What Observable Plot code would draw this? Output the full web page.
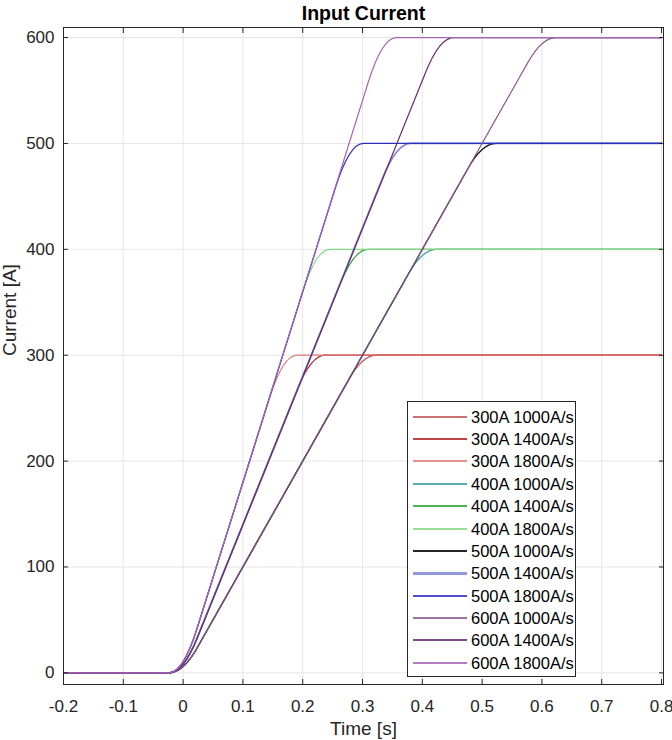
<!DOCTYPE html>
<html>
<head>
<meta charset="utf-8">
<script src="https://cdn.jsdelivr.net/npm/d3@7"></script>
<script src="https://cdn.jsdelivr.net/npm/@observablehq/plot@0.6"></script>
<style>
  html, body { margin: 0; padding: 0; background: #fff; }
  #chart { position: relative; width: 672px; height: 740px; font-family: "Liberation Sans", Arial, Helvetica, sans-serif; }
  #legend { position: absolute; box-sizing: border-box; left: 407px; top: 401px; width: 169px; height: 276px;
            border: 1px solid #262626; background: #fff; }
  .row { position: absolute; left: 0; width: 100%; height: 20px; }
  .swatch { position: absolute; left: 5px; width: 54px; opacity: 0.85; }
  .lab { position: absolute; left: 63px; top: 0; line-height: 20px; font-size: 16.5px; color: #000; white-space: nowrap; }
</style>
</head>
<body>
<div id="chart"></div>
<script>
// ---- data ----
const seriesNames = [
  "300A 1000A/s", "300A 1400A/s", "300A 1800A/s",
  "400A 1000A/s", "400A 1400A/s", "400A 1800A/s",
  "500A 1000A/s", "500A 1400A/s", "500A 1800A/s",
  "600A 1000A/s", "600A 1400A/s", "600A 1800A/s"
];
const plateauLevels = [300, 300, 300, 400, 400, 400, 500, 500, 500, 600, 600, 600];
// time (s) at which each ramp reaches its plateau (corner of the ramp)
const kneeTimes = [0.300, 0.214, 0.167, 0.400, 0.286, 0.222, 0.500, 0.357, 0.278, 0.600, 0.429, 0.333];
const rampOnset = 0.0;     // time the ramp leaves 0
const timeStart = -0.2;
const timeEnd = 0.8;
const seriesColors = [
  "#bf5757", "#b02424", "#e07b7b",
  "#3aa0a8", "#2ea836", "#86d886",
  "#000000", "#7f86d6", "#2a2fc0",
  "#8a5a8e", "#6a2c6e", "#a566b8"
];
const seriesWidths = [1.2, 1.2, 1.2, 1.2, 1.2, 1.2, 1.2, 1.8, 1.2, 1.2, 1.2, 1.2];
const legendSwatchWidths = [2, 2, 2, 2, 2, 2, 2, 3, 2, 2, 2, 2];
const xTicks = [-0.2, -0.1, 0, 0.1, 0.2, 0.3, 0.4, 0.5, 0.6, 0.7, 0.8];
const yTicks = [0, 100, 200, 300, 400, 500, 600];
const titleText = "Input Current";
const xLabel = "Time [s]";
const yLabel = "Current [A]";

// ---- rounded-corner curve (smoothed ramp corners) ----
const cornerHalfWidth = 14; // px
function roundedCorners(context) {
  let pts = [];
  return {
    areaStart() {}, areaEnd() {},
    lineStart() { pts = []; },
    point(x, y) { pts.push([+x, +y]); },
    lineEnd() {
      if (!pts.length) return;
      context.moveTo(pts[0][0], pts[0][1]);
      for (let i = 1; i < pts.length - 1; i++) {
        const a = pts[i - 1], v = pts[i], b = pts[i + 1];
        const ta = Math.min(cornerHalfWidth / Math.max(Math.abs(v[0] - a[0]), 1e-9), 0.5);
        const tb = Math.min(cornerHalfWidth / Math.max(Math.abs(b[0] - v[0]), 1e-9), 0.5);
        const p1 = [v[0] + (a[0] - v[0]) * ta, v[1] + (a[1] - v[1]) * ta];
        const p2 = [v[0] + (b[0] - v[0]) * tb, v[1] + (b[1] - v[1]) * tb];
        context.lineTo(p1[0], p1[1]);
        context.quadraticCurveTo(v[0], v[1], p2[0], p2[1]);
      }
      const last = pts[pts.length - 1];
      context.lineTo(last[0], last[1]);
    }
  };
}

const seriesRows = seriesNames.map((name, i) => [
  {series: name, t: timeStart, I: 0},
  {series: name, t: rampOnset, I: 0},
  {series: name, t: kneeTimes[i], I: plateauLevels[i]},
  {series: name, t: timeEnd, I: plateauLevels[i]}
]);

const axisColor = "#262626";
const chart = Plot.plot({
  width: 672,
  height: 740,
  marginLeft: 63,
  marginRight: 9,
  marginTop: 27,
  marginBottom: 56,
  style: {fontFamily: '"Liberation Sans", Arial, Helvetica, sans-serif', fontSize: "17px", color: axisColor, background: "#fff"},
  x: {domain: [-0.2, 0.8033]},
  y: {domain: [-11, 609.5]},
  marks: [
    Plot.gridX(xTicks, {stroke: "#e6e6e6", strokeOpacity: 1}),
    Plot.gridY(yTicks, {stroke: "#e6e6e6", strokeOpacity: 1}),
    ...seriesRows.map((rows, i) => Plot.line(rows, {
      x: "t", y: "I", stroke: seriesColors[i], strokeWidth: seriesWidths[i], curve: roundedCorners
    })),
    // tick labels
    Plot.axisX(xTicks, {anchor: "bottom", tickSize: 0, tickPadding: 15, label: null, tickFormat: d => String(d), fill: axisColor, fontSize: 17}),
    Plot.axisY(yTicks, {anchor: "left", tickSize: 0, tickPadding: 9, label: null, tickFormat: d => String(d), fill: axisColor, fontSize: 17}),
    // inward ticks on all four sides
    Plot.axisX(xTicks, {anchor: "bottom", tickSize: 5, dy: -5, fill: "none", label: null, stroke: axisColor}),
    Plot.axisX(xTicks, {anchor: "top", tickSize: 5, dy: 5, fill: "none", label: null, stroke: axisColor}),
    Plot.axisY(yTicks, {anchor: "left", tickSize: 5, dx: 5, fill: "none", label: null, stroke: axisColor}),
    Plot.axisY(yTicks, {anchor: "right", tickSize: 5, dx: -5, fill: "none", label: null, stroke: axisColor}),
    Plot.frame({stroke: axisColor}),
    Plot.text([titleText], {frameAnchor: "top", dy: -8, lineAnchor: "bottom", fontWeight: "bold", fontSize: 19.5, fill: "#000"}),
    Plot.text([xLabel], {frameAnchor: "bottom", dy: 37, lineAnchor: "top", fontSize: 19, fill: axisColor}),
    Plot.text([yLabel], {frameAnchor: "left", dx: -54, rotate: -90, fontSize: 19, fill: axisColor})
  ]
});
const host = document.getElementById("chart");
host.appendChild(chart);

// legend (inside the axes, bottom right)
const legend = document.createElement("div");
legend.id = "legend";
seriesNames.forEach((name, i) => {
  const row = document.createElement("div");
  row.className = "row";
  row.style.top = Math.round(4.7 + 22.36 * i) + "px";
  const sw = document.createElement("div");
  sw.className = "swatch";
  const h = legendSwatchWidths[i];
  sw.style.top = (10 - Math.floor(h / 2)) + "px";
  sw.style.height = h + "px";
  sw.style.background = seriesColors[i];
  const lab = document.createElement("div");
  lab.className = "lab";
  lab.textContent = name;
  row.appendChild(sw);
  row.appendChild(lab);
  legend.appendChild(row);
});
host.appendChild(legend);
</script>
</body>
</html>
